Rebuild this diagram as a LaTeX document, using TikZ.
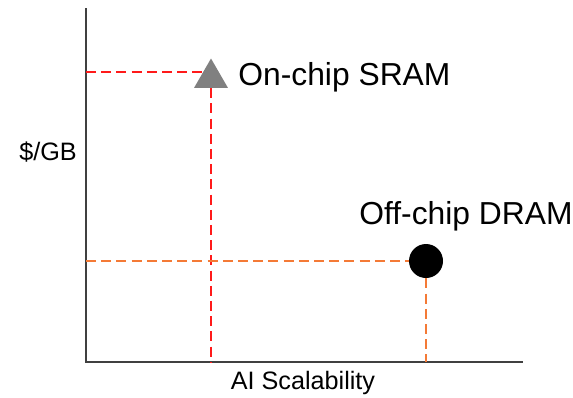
\documentclass[tikz,border=0pt]{standalone}
\usepackage{fontspec}
\setmainfont{Liberation Sans}
\usetikzlibrary{shapes.geometric}
\begin{document}
\begin{tikzpicture}[x=0.5pt,y=-0.5pt,
  axisline/.style={draw=black!75,line width=0.6pt},
  guide/.style={line width=1.2pt,dash pattern=on 5pt off 2.6pt},
  biglabel/.style={font=\fontsize{15.9pt}{18pt}\selectfont,inner sep=0pt},
  smalllabel/.style={font=\fontsize{12.6pt}{15pt}\selectfont,inner sep=0pt}]
\definecolor{sramred}{HTML}{FF1A1A}
\definecolor{dramorange}{HTML}{F47A36}
\definecolor{markgray}{HTML}{808080}
\useasboundingbox (0,0) rectangle (573,397);
% axes
\coordinate (top) at (86,8);
\coordinate (origin) at (86,362);
\coordinate (xend) at (523,362);
\draw[axisline] (top) -- (origin) -- (xend);
% markers
\node (sram) [regular polygon,regular polygon sides=3,fill=markgray,inner sep=0pt,minimum size=39*0.5pt] at (211,78) {};
\node (dram) [circle,fill=black,inner sep=0pt,minimum size=34*0.5pt] at (426,261) {};
% projections onto the axes
\coordinate (sramy) at (86,72);
\coordinate (sramx) at (211,362);
\coordinate (dramy) at (86,261);
\coordinate (dramx) at (426,362);
\draw[guide,draw=sramred] (sramy) -- (sramy -| sram.141);
\draw[guide,draw=sramred] (sram.south) -- (sramx);
\draw[guide,draw=dramorange] (dramy) -- (dram.west);
\draw[guide,draw=dramorange] (dram.south) -- (dramx);
% labels
\node (sramlabel) [biglabel,anchor=west] at (238,77) {On-chip SRAM};
\node (dramlabel) [biglabel,anchor=center] at (466,216) {Off-chip DRAM};
\node (ylabel) [smalllabel] at (48,152) {\$/GB};
\node (xlabel) [smalllabel] at (303,383) {AI Scalability};
\end{tikzpicture}
\end{document}
